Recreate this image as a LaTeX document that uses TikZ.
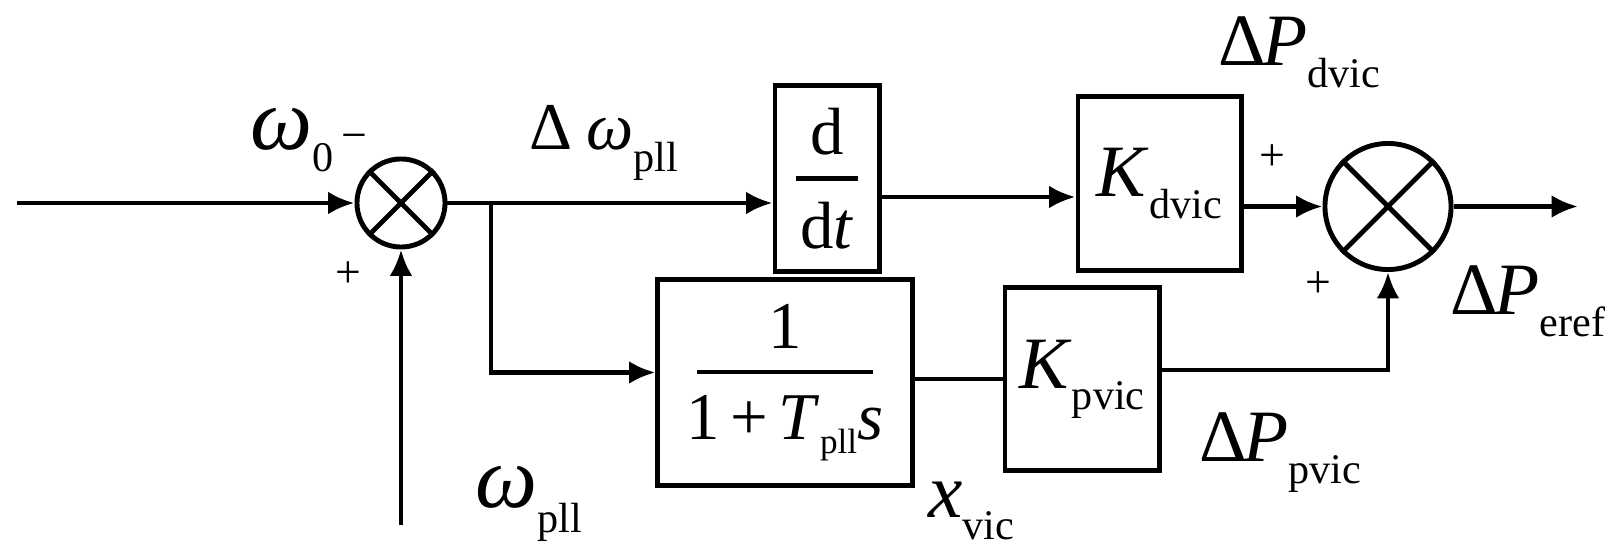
\documentclass[tikz,border=0pt]{standalone}
\usepackage{fontspec}
\setmainfont{Liberation Serif}
\usetikzlibrary{shapes, arrows, arrows.meta, calc}

\newcommand{\lsub}[3][6pt]{\raisebox{-#1}{\fontsize{#2}{#2}\selectfont #3}}
\newcommand{\fracstack}[3]{\vbox{\offinterlineskip\halign{\hfil##\hfil\cr
  #2\cr\noalign{\kern 6pt}\rule{#1}{1.2pt}\cr\noalign{\kern 6pt}#3\cr}}}

\tikzset{
  block/.style={draw, inner sep=0pt},
  sumnode/.style={draw, circle, inner sep=0pt},
  sign/.style={inner sep=0pt, font=\fontsize{13}{13}\selectfont},
  lbl/.style={inner sep=0pt, anchor=base west, font=\fontsize{21}{21}\selectfont}
}

\begin{document}
\begin{tikzpicture}[>={Latex[length=7.5pt, width=6.5pt]}, x=0.01cm, y=-0.01cm,
  line width=1.4pt]
\useasboundingbox (0, 0) rectangle (1612, 546);
% blocks
\node[block, minimum width=1.04cm, minimum height=1.85cm,
  font=\fontsize{19}{19}\selectfont] at (827, 178.5) (dt)
  {\fracstack{0.61cm}{d}{d\textit{t}}};
\node[block, minimum width=1.63cm, minimum height=1.73cm,
  font=\fontsize{21}{21}\selectfont] at (1159.5, 183.5) (Kd)
  {\textit{K}\lsub{12}{dvic}};
\node[block, minimum width=2.54cm, minimum height=2.05cm,
  font=\fontsize{19}{19}\selectfont] at (785, 382.5) (lag)
  {\fracstack{1.75cm}{1}{1\hspace{3pt}+\hspace{3pt}\textit{T}\lsub[4pt]{10}{pll}\textit{s}}};
\node[block, minimum width=1.54cm, minimum height=1.82cm,
  font=\fontsize{21}{21}\selectfont] at (1082, 379) (Kp)
  {\textit{K}\lsub{12}{pvic}};
\node[sumnode, minimum size=0.88cm] at (401, 203) (sumA) {};
\node[sumnode, minimum size=1.26cm] at (1388, 206.5) (sumB) {};
\foreach \s in {sumA, sumB}
  \draw (\s.45) -- (\s.225) (\s.135) -- (\s.315);
% free ends
\coordinate (w0) at (17, 203);
\coordinate (wpll) at (401, 525);
\coordinate (br) at (491, 203);
\coordinate (out) at (1578, 206.5);
% signals
\draw[->] (w0) -- (sumA.west);
\draw[->] (wpll) -- (sumA.south);
\draw[->] (sumA.east) -- (sumA.east -| dt.west);
\draw[->] (br) |- ($(lag.west)+(0,-10)$);
\draw[->] ($(dt.east)+(0,18.5)$) -- ($(Kd.west)+(0,13.5)$);
\draw[->] (sumB.west -| Kd.east) -- (sumB.west);
\draw[->] (sumB.east) -- (out);
\draw (lag.east |- Kp.west) -- (Kp.west);
\draw[->] ($(Kp.east)+(0,-9)$) -| (sumB.south);
% labels
\node[lbl, font=\fontsize{25}{25}\selectfont] at (248, 150) (w0lbl)
  {\textit{ω}\lsub{12}{0}};
\node[sign] at (354, 142) (minusA) {−};
\node[sign] at (348, 275) (plusA) {+};
\node[lbl, font=\fontsize{19}{19}\selectfont] at (527, 150) (dwlbl)
  {Δ\hspace{4pt}\textit{ω}\lsub{12}{pll}};
\node[lbl, font=\fontsize{25}{25}\selectfont] at (473, 508) (wplllbl)
  {\textit{ω}\lsub[7pt]{12}{pll}};
\node[lbl] at (1216, 66) (Pdlbl) {Δ\kern-1pt\textit{P}\lsub{12}{dvic}};
\node[sign] at (1272, 158) (plusB) {+};
\node[sign] at (1318, 285) (plusC) {+};
\node[lbl] at (1448, 315) (Pelbl) {Δ\kern-1pt\textit{P}\lsub{12}{eref}};
\node[lbl] at (1197, 462) (Pplbl) {Δ\kern-1pt\textit{P}\lsub{12}{pvic}};
\node[lbl, font=\fontsize{22}{22}\selectfont] at (926, 518) (xlbl)
  {\textit{x}\lsub{12}{vic}};
\end{tikzpicture}
\end{document}
